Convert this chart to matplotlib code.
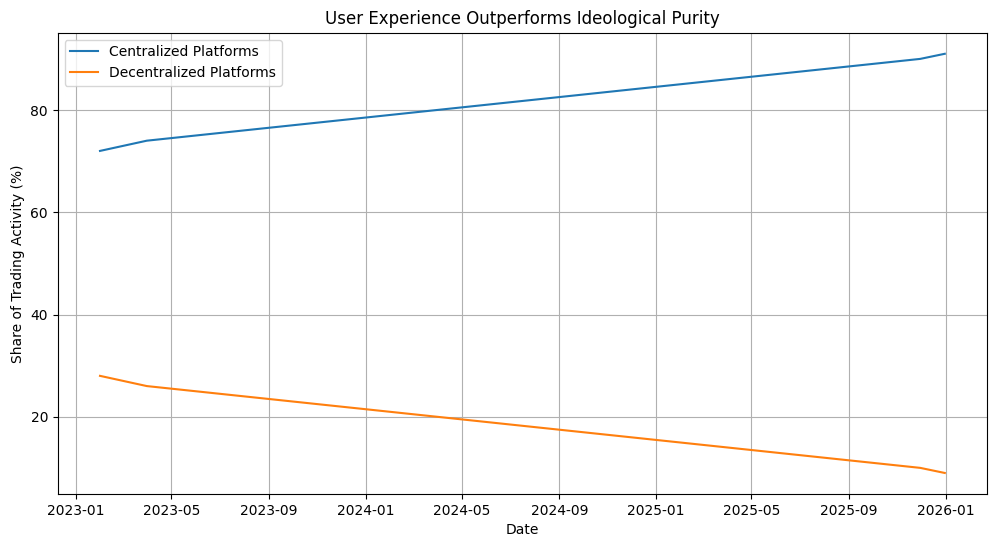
import matplotlib
matplotlib.use("Agg")
import matplotlib.pyplot as plt
import pandas as pd

# key points (month ends)
dates = ["2023-01-31", "2023-03-31", "2025-11-30", "2025-12-31"]
centralized = [72, 74, 90, 91]
decentralized = [28, 26, 10, 9]

dates = pd.to_datetime(dates)

fig, ax = plt.subplots(figsize=(9.96, 5.47), dpi=100)
fig.subplots_adjust(left=0.058, right=0.991, top=0.94, bottom=0.097)

ax.plot(dates, centralized, label="Centralized Platforms")
ax.plot(dates, decentralized, label="Decentralized Platforms")

ax.set_title("User Experience Outperforms Ideological Purity")
ax.set_xlabel("Date")
ax.set_ylabel("Share of Trading Activity (%)")
ax.legend(loc="upper left")
ax.grid(True)

fig.savefig("out.png")
